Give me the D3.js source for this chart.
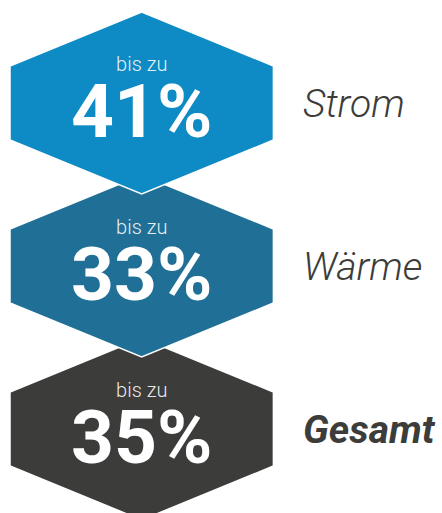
<!DOCTYPE html>
<html>
<head>
<meta charset="utf-8">
<title>Einsparung</title>
<script src="https://cdn.jsdelivr.net/npm/d3@7"></script>
<style>
  html, body { margin: 0; padding: 0; background: #fff; }
  svg { display: block; font-family: Roboto, "Noto Sans", sans-serif; }
</style>
</head>
<body>
<script>
// chart data
var categories = ["Strom", "Wärme", "Gesamt"];
var values = [41, 33, 35];
var prefix = "bis zu";
var hexColors = ["#0e8ac4", "#1f6f96", "#3c3c3b"];
var labelBold = [false, false, true];

var svg_width = 442, svg_height = 513;
var svg = d3.select("body").append("svg")
	.attr("width", svg_width)
	.attr("height", svg_height);

// vertical position of each hexagon centre
var y = d3.scalePoint().domain(categories).range([103, 429]);
var cx = 141.7;
var halfW = 131.7, halfH = 91, shoulder = 37;

var hexPoints = [[0, -halfH], [halfW, -shoulder], [halfW, shoulder],
	[0, halfH], [-halfW, shoulder], [-halfW, -shoulder]];
var line = d3.line().curve(d3.curveLinearClosed);

var rows = categories.map(function(c, i) {
	return {cat: c, value: values[i], color: hexColors[i], bold: labelBold[i]};
});

// draw bottom row first so upper hexagons overlap the ones below
var g = svg.selectAll("g.row")
	.data(rows.slice().reverse())
	.enter().append("g")
	.attr("class", "row")
	.attr("transform", function(d) { return "translate(" + cx + "," + y(d.cat) + ")"; });

g.append("path")
	.attr("d", line(hexPoints))
	.attr("fill", function(d) { return d.color; })
	.attr("stroke", "#fff")
	.attr("stroke-width", 1.5)
	.attr("stroke-linejoin", "miter");

g.append("text")
	.attr("text-anchor", "middle")
	.attr("y", -32)
	.attr("fill", "#fff")
	.attr("fill-opacity", 0.9)
	.style("font-size", "20px")
	.style("font-weight", 300)
	.text(prefix);

g.append("text")
	.attr("text-anchor", "middle")
	.attr("y", 34)
	.attr("fill", "#fff")
	.style("font-size", "75px")
	.style("font-weight", 700)
	.text(function(d) { return d.value + "%"; });

g.append("text")
	.attr("x", 303 - cx)
	.attr("y", 14)
	.attr("fill", "#3c3c3b")
	.style("font-size", "39px")
	.style("font-style", "italic")
	.style("font-weight", function(d) { return d.bold ? 700 : 300; })
	.text(function(d) { return d.cat; });
</script>
</body>
</html>
